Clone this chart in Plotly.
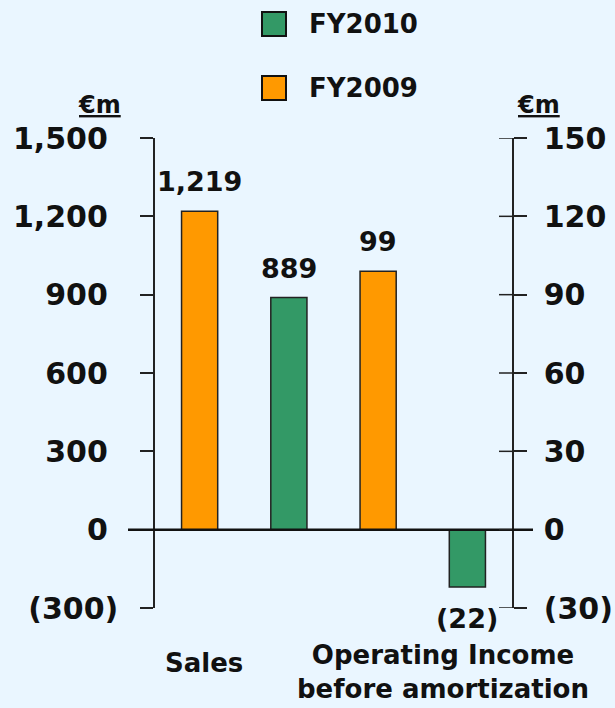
import plotly.graph_objects as go

# ---- data ----
series_names = ["FY2010", "FY2009"]
colors = {"FY2010": "#339966", "FY2009": "#FF9900"}
sales = {"FY2009": 1219, "FY2010": 889}
op_income = {"FY2009": 99, "FY2010": -22}
left_ticks = [-300, 0, 300, 600, 900, 1200, 1500]
left_ticktext = ["(300)", "0", "300", "600", "900", "1,200", "1,500"]
right_ticks = [-30, 0, 30, 60, 90, 120, 150]
right_ticktext = ["(30)", "0", "30", "60", "90", "120", "150"]
categories = ["Sales", "Operating Income<br>before amortization"]
unit = "€m"

W, H = 615, 708
L, R, T, B = 155, 103, 138, 100
PW, PH = W - L - R, H - T - B
FONT = "DejaVu Sans"
BG = "#EAF6FF"
INK = "#111111"


def xp(px):
    return (px - L) / PW


def yp(py):
    return (H - B - py) / PH


def fmt(v):
    return f"({abs(v):,})" if v < 0 else f"{v:,}"


# positive left labels get a trailing no-break space so that the parenthesised
# negative label hangs out to the right, as in the original
left_ticktext_disp = [t if t.startswith("(") else t + "\u00a0" for t in left_ticktext]

# slot order: Sales FY2009, Sales FY2010, OI FY2009, OI FY2010
bars = [
    (0, "FY2009", sales["FY2009"], "y"),
    (1, "FY2010", sales["FY2010"], "y"),
    (2, "FY2009", op_income["FY2009"], "y2"),
    (3, "FY2010", op_income["FY2010"], "y2"),
]

fig = go.Figure()
annotations = []
for slot, name, val, ax in bars:
    fig.add_trace(go.Bar(
        x=[slot], y=[val], yaxis=ax, name=name, width=0.405,
        marker=dict(color=colors[name], line=dict(color="#222222", width=1.5)),
        showlegend=False, hoverinfo="skip",
    ))
    annotations.append(dict(
        x=slot, y=val, xref="x", yref=ax, text=fmt(val), showarrow=False,
        yanchor="bottom" if val >= 0 else "top",
        yshift=12 if val >= 0 else -14,
        font=dict(family=FONT, size=27, color=INK, weight="bold"),
    ))

# category labels
annotations.append(dict(x=xp(204), y=yp(663), xref="paper", yref="paper",
                        text=categories[0], showarrow=False, xanchor="center", yanchor="middle",
                        font=dict(family=FONT, size=26, color=INK, weight="bold")))
annotations.append(dict(x=xp(443), y=yp(672), xref="paper", yref="paper",
                        text=categories[1], showarrow=False, xanchor="center", yanchor="middle",
                        font=dict(family=FONT, size=26, color=INK, weight="bold")))

# unit labels
for cx in (99, 538):
    annotations.append(dict(x=xp(cx), y=yp(105), xref="paper", yref="paper",
                            text=f"<u>{unit}</u>", showarrow=False, xanchor="center", yanchor="middle",
                            font=dict(family=FONT, size=24, color=INK, weight="bold")))

shapes = []
# custom legend
leg_rows = {"FY2010": 24, "FY2009": 88}
for name in series_names:
    cy = leg_rows[name]
    shapes.append(dict(type="rect", xref="paper", yref="paper",
                       x0=xp(262), x1=xp(286), y0=yp(cy - 12), y1=yp(cy + 12),
                       fillcolor=colors[name], line=dict(color="#111111", width=2)))
    annotations.append(dict(x=xp(307), y=yp(cy), xref="paper", yref="paper",
                            text=name, showarrow=False, xanchor="left", yanchor="middle",
                            font=dict(family=FONT, size=26, color=INK, weight="bold")))

# zero baseline
shapes.append(dict(type="line", xref="paper", yref="y", x0=xp(128), x1=xp(533), y0=0, y1=0,
                   line=dict(color="#111111", width=2.5), layer="above"))
# inside halves of the right-axis cross ticks
for v in right_ticks:
    shapes.append(dict(type="line", xref="paper", yref="y2", x0=1 - 13 / PW, x1=1, y0=v, y1=v,
                       line=dict(color="#222222", width=1.5), layer="above"))

tickfont = dict(family=FONT, size=30, color=INK, weight="bold")
fig.update_layout(
    width=W, height=H, autosize=False,
    margin=dict(l=L, r=R, t=T, b=B, pad=0),
    paper_bgcolor=BG, plot_bgcolor=BG,
    barmode="overlay",
    showlegend=False,
    xaxis=dict(visible=False, range=[-0.5, 3.5], fixedrange=True, automargin=False),
    yaxis=dict(range=[-300, 1500], tickvals=left_ticks, ticktext=left_ticktext_disp, automargin=False,
               showgrid=False, zeroline=False, showline=True, linecolor="#222222", linewidth=1.5,
               ticks="outside", ticklen=13, tickwidth=1.5, tickcolor="#222222",
               ticklabelstandoff=16, tickfont=tickfont, fixedrange=True),
    yaxis2=dict(range=[-30, 150], tickvals=right_ticks, ticktext=right_ticktext, automargin=False,
                overlaying="y", side="right", anchor="x",
                showgrid=False, zeroline=False, showline=True, linecolor="#222222", linewidth=1.5,
                ticks="outside", ticklen=13, tickwidth=1.5, tickcolor="#222222",
                ticklabelstandoff=11, tickfont=tickfont, fixedrange=True),
    annotations=annotations,
    shapes=shapes,
)

fig.write_html(
    "out.html",
    config={"displayModeBar": False, "responsive": False},
    post_script="document.body.style.margin='0';document.body.style.background='" + BG + "';",
)
